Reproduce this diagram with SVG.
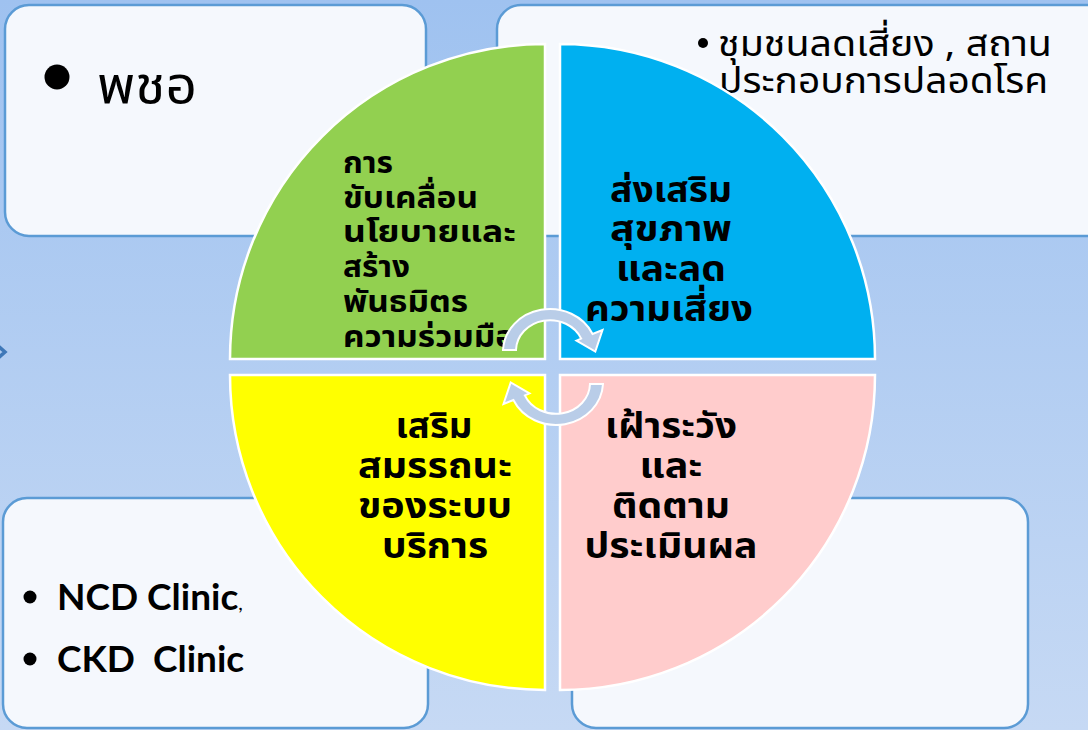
<svg xmlns="http://www.w3.org/2000/svg" width="1088" height="730" viewBox="0 0 1088 730">
<defs>
<linearGradient id="bg" x1="0" y1="0" x2="0" y2="1">
<stop offset="0" stop-color="#9FC2F0"/>
<stop offset="1" stop-color="#C6D9F4"/>
</linearGradient>
<path id="carrow" d="M503,350 A47,43 0 0 1 592.6,334 L602.5,330 L595.3,351.5 L576.5,340.6 L581.2,338.6 A34,30.5 0 0 0 516,350 Z"/>
<style>
.box{fill:#F5F8FD;stroke:#5B9BD5;stroke-width:2.5}
.q{stroke:#FFFFFF;stroke-width:2.5}
.th{font-family:"Noto Sans Thai","Tahoma","DejaVu Sans",sans-serif;fill:#000}
.tb{font-family:"Noto Sans Thai","Tahoma","DejaVu Sans",sans-serif;font-weight:bold;fill:#000;font-size:35px}
.g{font-size:30px}
.c{text-anchor:middle}
.en{font-family:"Lato","Liberation Sans",sans-serif;font-weight:bold;fill:#000;white-space:pre}
.arr{fill:#B9CDE8;stroke:#FFFFFF;stroke-width:2}
</style>
</defs>
<rect x="0" y="0" width="1088" height="730" fill="url(#bg)"/>
<polyline points="-4,344 5,352 -4,360" fill="none" stroke="#3F78B8" stroke-width="3.5"/>

<g id="box-tl">
<rect class="box" x="5" y="5" width="421" height="231" rx="24"/>
<circle cx="57" cy="77" r="12.5" fill="#000"/>
<text class="th" x="97" y="103" font-size="51" textLength="100" lengthAdjust="spacingAndGlyphs">พชอ</text>
</g>
<g id="box-tr">
<rect class="box" x="497" y="5" width="620" height="231" rx="24"/>
<circle cx="703" cy="43" r="5" fill="#000"/>
<text class="th" x="718" y="56" font-size="36" textLength="334" lengthAdjust="spacingAndGlyphs">ชุมชนลดเสี่ยง , สถาน</text>
<text class="th" x="719" y="93" font-size="36" textLength="329" lengthAdjust="spacingAndGlyphs">ประกอบการปลอดโรค</text>
</g>
<g id="box-bl">
<rect class="box" x="3" y="498" width="425" height="230" rx="24"/>
<circle cx="30" cy="597" r="6.5" fill="#000"/>
<text class="en" x="57" y="610" font-size="37">NCD Clinic<tspan font-weight="normal" font-size="20">,</tspan></text>
<circle cx="30" cy="659" r="6.5" fill="#000"/>
<text class="en" x="57" y="672" font-size="37">CKD  Clinic</text>
</g>
<g id="box-br">
<rect class="box" x="572" y="498" width="456" height="230" rx="24"/>
</g>

<g id="q-green">
<path class="q" fill="#92D050" d="M545,359 L230,359 A315,315 0 0 1 545,44 Z"/>
<text class="tb g" x="343" y="173" textLength="50" lengthAdjust="spacingAndGlyphs">การ</text>
<text class="tb g" x="343" y="208" textLength="135" lengthAdjust="spacingAndGlyphs">ขับเคลื่อน</text>
<text class="tb g" x="343" y="242" textLength="173" lengthAdjust="spacingAndGlyphs">นโยบายและ</text>
<text class="tb g" x="343" y="277" textLength="67" lengthAdjust="spacingAndGlyphs">สร้าง</text>
<text class="tb g" x="343" y="312" textLength="125" lengthAdjust="spacingAndGlyphs">พันธมิตร</text>
<text class="tb g" x="343" y="347" textLength="172" lengthAdjust="spacingAndGlyphs">ความร่วมมือ</text>
</g>
<g id="q-blue">
<path class="q" fill="#00B0F0" d="M560,359 L560,44 A315,315 0 0 1 875,359 Z"/>
<text class="tb c" x="671" y="202" textLength="122" lengthAdjust="spacingAndGlyphs">ส่งเสริม</text>
<text class="tb c" x="671" y="241" textLength="122" lengthAdjust="spacingAndGlyphs">สุขภาพ</text>
<text class="tb c" x="671" y="281" textLength="110" lengthAdjust="spacingAndGlyphs">และลด</text>
<text class="tb c" x="669" y="321" textLength="168" lengthAdjust="spacingAndGlyphs">ความเสี่ยง</text>
</g>
<g id="q-yellow">
<path class="q" fill="#FFFF00" d="M545,375 L545,690 A315,315 0 0 1 230,375 Z"/>
<text class="tb c" x="434" y="438" textLength="77" lengthAdjust="spacingAndGlyphs">เสริม</text>
<text class="tb c" x="435" y="478" textLength="154" lengthAdjust="spacingAndGlyphs">สมรรถนะ</text>
<text class="tb c" x="435" y="518" textLength="154" lengthAdjust="spacingAndGlyphs">ของระบบ</text>
<text class="tb c" x="435" y="558" textLength="106" lengthAdjust="spacingAndGlyphs">บริการ</text>
</g>
<g id="q-pink">
<path class="q" fill="#FFCCCC" d="M560,375 L875,375 A315,315 0 0 1 560,690 Z"/>
<text class="tb c" x="671" y="438" textLength="132" lengthAdjust="spacingAndGlyphs">เฝ้าระวัง</text>
<text class="tb c" x="671" y="478" textLength="63" lengthAdjust="spacingAndGlyphs">และ</text>
<text class="tb c" x="671" y="518" textLength="118" lengthAdjust="spacingAndGlyphs">ติดตาม</text>
<text class="tb c" x="671" y="558" textLength="173" lengthAdjust="spacingAndGlyphs">ประเมินผล</text>
</g>

<g id="connectors">
<use href="#carrow" class="arr"/>
<use href="#carrow" class="arr" transform="rotate(180 553 367)"/>
</g>
</svg>
